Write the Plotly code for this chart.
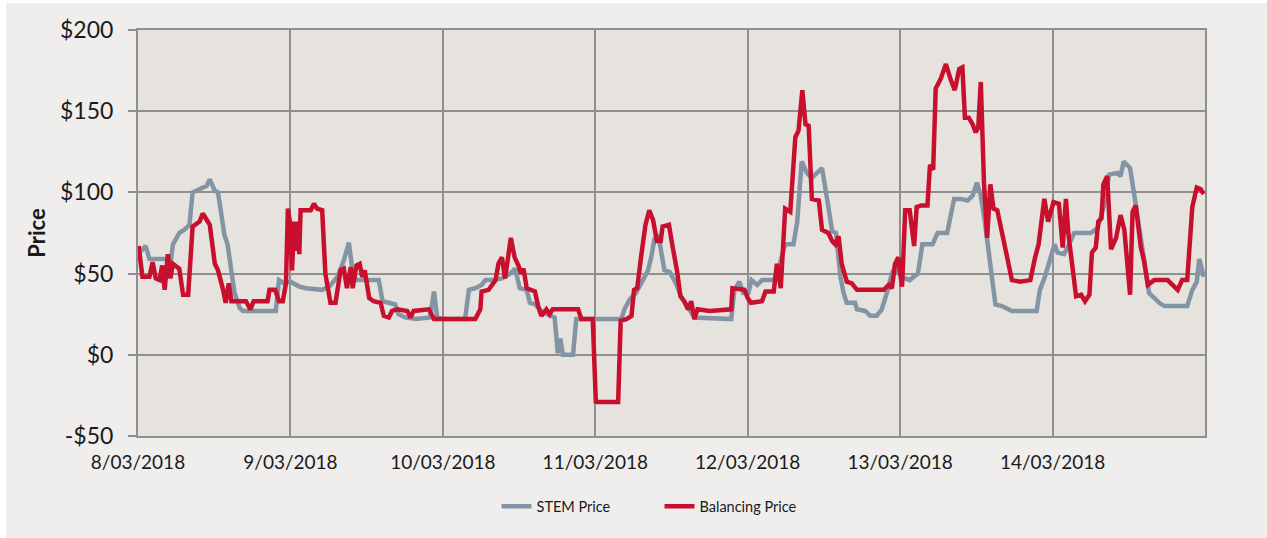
import pandas as pd
import plotly.graph_objects as go

# ---- data (hours since 8/03/2018 00:00, price $/MWh) ----
stem_hours = [0, 1.2, 1.8, 5.2, 5.5, 6.5, 7.3, 8.1, 8.6, 9.7, 10.8, 11.3, 12.1, 12.6, 13.1, 13.6, 14.1, 14.7, 15.2, 16.0, 16.5, 21.7, 22.2, 23.0,
              24.0, 25.4, 26.4, 29.0, 30.1, 31.4, 32.4, 33.2, 33.7, 34.3, 37.9, 38.5, 40.5, 41.0, 42.1, 43.7, 46.0, 46.6, 47.1, 48.0,
              51.5, 52.1, 53.1, 54.1, 54.7, 56.0, 57.3, 58.6, 59.4, 60.1, 61.2, 61.7, 62.5, 63.8, 64.8, 65.6, 66.1, 66.5, 66.9, 68.5, 69.0, 72.0,
              76.1, 76.6, 77.4, 78.4, 79.2, 80.3, 80.8, 81.3, 81.9, 82.4, 82.9, 83.7, 84.7, 85.5, 86.6, 87.6, 93.4, 93.9, 94.7, 95.3, 96.1, 96.6, 97.5, 98.25,
              100.1, 100.6, 101.1, 101.9, 103.2, 103.8, 104.5, 105.3, 106.1, 106.9, 107.7, 108.5, 109.3, 109.9, 110.6, 111.1, 111.6, 112.9, 113.2, 114.5, 115.3, 116.3, 117.1, 117.9, 118.7, 119.2, 120.15,
              121.5, 122.8, 123.5, 125.1, 125.9, 127.4, 128.5, 129.5, 130.6, 131.4, 132.1, 132.7, 133.4, 134.2, 135.0, 136.0, 137.6, 141.5, 142.0, 142.8, 143.6, 144.3,
              144.8, 145.8, 146.6, 147.4, 150.0, 151.1, 152.1, 152.9, 154.2, 154.7, 155.2, 156.2, 156.8, 157.6, 158.4, 159.2, 160.0, 160.8, 161.6, 165.2, 166.0, 166.7, 167.1, 167.8]
stem_price = [62, 67, 59, 59, 68, 75, 77, 80, 100, 102, 104, 108, 101, 100, 88, 74, 68, 52, 38, 29, 27, 27, 46, 44,
              45, 42, 41, 40, 42, 48, 58, 69, 54, 46, 46, 33, 31, 25, 23, 22, 23, 39, 23, 22,
              22, 40, 41, 43, 46, 46, 47, 50, 53, 41, 40, 32, 31, 26, 24, 23, 1, 10, 0, 0, 22, 22,
              22, 28, 34, 38, 44, 52, 60, 71, 74, 64, 52, 51, 44, 36, 29, 23, 22, 40, 45, 38, 38, 46, 43, 46,
              46, 49, 57, 68, 68, 82, 119, 112, 109, 112, 115, 96, 76, 75, 48, 38, 32, 32, 28, 27, 24, 24, 28, 38, 50, 54, 48,
              46, 50, 68, 68, 75, 75, 96, 96, 95, 98, 106, 98, 80, 56, 31, 30, 27, 27, 40, 48, 60, 68,
              63, 62, 68, 75, 75, 78, 92, 111, 112, 110, 119, 115, 100, 78, 56, 38, 35, 32, 30, 30, 40, 45, 59, 48]

bal_hours = [0.1, 0.7, 1.8, 2.3, 2.8, 3.4, 3.8, 4.2, 4.7, 5.1, 5.5, 6.5, 7.1, 7.9, 8.6, 9.7, 10.2, 11.3, 12.1, 12.6, 13.4, 13.8, 14.3, 14.7, 17.0, 17.7, 18.2, 20.4, 20.7, 21.6, 22.2, 22.8, 23.3, 23.6, 23.9,
             24.25, 24.6, 24.8, 25.1, 25.4, 25.6, 26.1, 27.2, 27.7, 28.2, 29.0, 29.5, 30.3, 31.1, 31.9, 32.4, 32.9, 33.5, 33.8, 34.4, 34.9, 35.3, 35.7, 36.4, 37.1, 38.2, 38.7, 39.5, 40.0, 40.8, 42.4, 42.9, 43.4, 45.8, 46.6, 48.0,
             53.1, 53.9, 54.1, 55.2, 56.0, 56.3, 56.75, 57.3, 57.8, 58.7, 59.3, 59.9, 60.3, 60.7, 61.2, 61.9, 62.5, 63.0, 63.5, 64.3, 64.8, 65.3, 65.9, 69.3, 69.8, 71.6, 72.1,
             72.2, 75.6, 76.0, 76.9, 77.7, 78.1, 78.6, 79.2, 79.9, 80.5, 81.1, 81.7, 82.3, 82.6, 83.6, 84.2, 84.9, 85.4, 86.0, 86.6, 87.1, 87.6, 88.1, 90.0, 93.4, 93.6, 95.5, 96.0, 96.5,
             98.25, 98.8, 100.1, 100.6, 101.2, 101.9, 102.7, 103.5, 104.0, 104.6, 105.1, 105.6, 106.1, 107.2, 107.7, 108.7, 109.3, 109.8, 110.3, 110.8, 111.6, 112.4, 113.2, 114.0, 117.4, 118.2, 118.7, 119.2, 119.7, 120.3,
             120.8, 121.5, 122.2, 122.6, 123.3, 124.3, 124.7, 125.2, 125.6, 126.4, 127.2, 128.0, 128.6, 129.3, 129.8, 130.2, 130.8, 131.4, 131.9, 132.3, 132.7, 133.2, 133.7, 134.2, 134.7, 135.3, 136.6, 137.6, 138.9, 140.5, 141.25, 141.8, 142.7, 143.3,
             144.15, 145.0, 145.6, 146.1, 146.5, 147.1, 147.7, 148.5, 149.1, 149.8, 150.2, 150.8, 151.2, 151.7, 152.0, 152.6, 153.2, 154.0, 154.7, 155.3, 156.2, 156.6, 157.1, 157.9, 158.4, 159.0, 160.0, 162.1, 162.9, 163.7, 164.4, 165.2, 166.0, 166.7, 167.3, 167.8]
bal_price = [67, 48, 48, 57, 47, 46, 55, 40, 62, 47, 56, 53, 37, 37, 79, 82, 87, 80, 56, 52, 40, 32, 44, 33, 33, 28, 33, 33, 40, 40, 33, 33, 44, 90, 82,
             52, 82, 64, 82, 62, 89, 89, 89, 93, 90, 89, 50, 32, 32, 52, 53, 41, 54, 41, 55, 56, 48, 52, 35, 33, 32, 24, 23, 27, 28, 27, 23, 27, 28, 22, 22,
             22, 28, 39, 40, 44, 46, 56, 60, 47, 72, 60, 55, 50, 53, 41, 40, 39, 30, 24, 28, 25, 28, 28, 28, 22, 22, -30,
             -29, -29, 21, 22, 24, 40, 41, 60, 80, 89, 83, 70, 70, 79, 80, 66, 51, 36, 33, 28, 33, 22, 28, 27, 28, 41, 40, 35, 32,
             33, 39, 39, 56, 41, 90, 88, 134, 138, 163, 142, 141, 96, 95, 77, 75, 70, 68, 73, 56, 45, 44, 40, 40, 40, 43, 41, 56, 60, 42,
             89, 89, 67, 91, 92, 92, 117, 114, 164, 170, 179, 169, 163, 176, 177, 146, 146, 142, 137, 140, 168, 106, 72, 105, 90, 89, 66, 46, 45, 46, 60, 68, 96, 82,
             94, 93, 66, 96, 74, 56, 36, 37, 33, 37, 63, 66, 82, 84, 105, 110, 65, 72, 86, 77, 37, 88, 92, 66, 58, 43, 46, 46, 43, 40, 46, 46, 91, 103, 102, 99]

day_dates = ["2018-03-08", "2018-03-09", "2018-03-10", "2018-03-11", "2018-03-12", "2018-03-13", "2018-03-14", "2018-03-15"]
day_labels = ["8/03/2018", "9/03/2018", "10/03/2018", "11/03/2018", "12/03/2018", "13/03/2018", "14/03/2018", ""]
y_ticks = [-50, 0, 50, 100, 150, 200]
y_labels = ["-$50", "$0", "$50", "$100", "$150", "$200"]

assert len(stem_hours) == len(stem_price)
assert len(bal_hours) == len(bal_price)

start = pd.Timestamp(day_dates[0])
stem_t = start + pd.to_timedelta(stem_hours, unit="h")
bal_t = start + pd.to_timedelta(bal_hours, unit="h")

GRID = "#8f8f8f"
FONT = "Lato, 'Open Sans', sans-serif"
TXT = "#1a1a1a"

fig = go.Figure()
fig.add_trace(go.Scatter(x=stem_t, y=stem_price, mode="lines", name="STEM Price",
                         line=dict(color="#8395A5", width=4.5)))
fig.add_trace(go.Scatter(x=bal_t, y=bal_price, mode="lines", name="Balancing Price",
                         line=dict(color="#C8102E", width=4.5)))

fig.update_layout(
    width=1261, height=535,
    margin=dict(l=132, r=62, t=17, b=102),
    paper_bgcolor="#EFEEEC",
    plot_bgcolor="#E6E3DF",
    font=dict(family=FONT, color=TXT),
    showlegend=True,
    legend=dict(orientation="h", x=0.336, xanchor="left", y=-0.173, yanchor="middle",
                entrywidth=118, entrywidthmode="pixels",
                font=dict(size=14.5, family=FONT, color=TXT), bgcolor="rgba(0,0,0,0)"),
    xaxis=dict(
        range=[pd.Timestamp(day_dates[0]), pd.Timestamp(day_dates[-1])],
        tickvals=[pd.Timestamp(d) for d in day_dates], ticktext=day_labels,
        showgrid=True, gridcolor=GRID, gridwidth=2,
        showline=True, linecolor=GRID, linewidth=2, mirror=True,
        ticks="", ticklabelstandoff=8,
        tickfont=dict(size=19, family=FONT, color=TXT),
        zeroline=False,
    ),
    yaxis=dict(
        range=[-50, 200], tickvals=y_ticks, ticktext=y_labels,
        showgrid=True, gridcolor=GRID, gridwidth=2,
        showline=True, linecolor=GRID, linewidth=2, mirror=True,
        ticks="outside", ticklen=8, tickcolor=GRID, tickwidth=2,
        ticklabelstandoff=10,
        tickfont=dict(size=23, family=FONT, color=TXT),
        zeroline=False,
        title=dict(text="<b>Price</b>", font=dict(size=22, family=FONT, color=TXT), standoff=8),
    ),
)

fig.write_html("out.html", post_script="document.body.style.margin='3px 0 0 6px';document.body.style.overflow='hidden';")
